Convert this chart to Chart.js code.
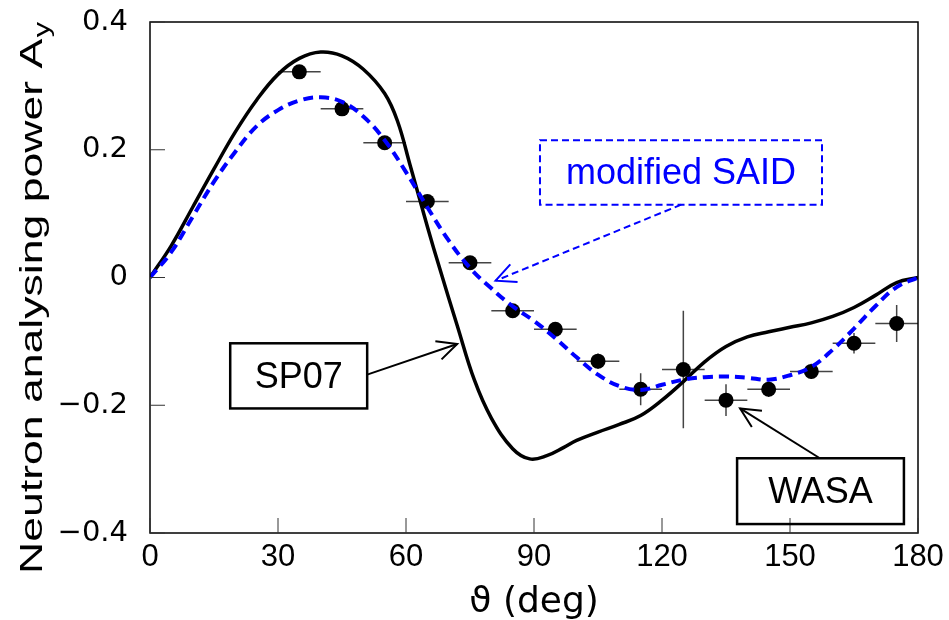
<!DOCTYPE html>
<html>
<head>
<meta charset="utf-8">
<script src="https://cdn.jsdelivr.net/npm/chart.js@4.4.0/dist/chart.umd.min.js"></script>
<style>
  html, body { margin: 0; padding: 0; background: #fff; }
  #wrap { width: 949px; height: 620px; }
</style>
</head>
<body>
<div id="wrap"><canvas id="chart" width="949" height="620"></canvas></div>
<script>
// WASA data points (theta in deg, A_y), with errors
const wasaAngles = [35, 45, 55, 65, 75, 85, 95, 105, 115, 125, 135, 145, 155, 165, 175];
const wasaValues = [0.322, 0.264, 0.211, 0.119, 0.023, -0.052, -0.081, -0.131, -0.175, -0.144, -0.192, -0.175, -0.147, -0.103, -0.072];
const wasaErrY = [0.008, 0.008, 0.008, 0.01, 0.01, 0.01, 0.01, 0.012, 0.025, 0.092, 0.025, 0.012, 0.012, 0.016, 0.029];
const wasaBinHalf = [5, 5, 5, 5, 5, 5, 5, 5, 5, 5, 5, 5, 5, 5, 5];

// SP07 curve
const sp07Angles = [0, 5, 10, 15, 20, 25, 30, 35, 40, 45, 50, 55, 58, 61, 65, 68, 72, 76, 80, 85, 89, 93, 97, 100, 105, 110, 115, 120, 125, 130, 135, 140, 145, 150, 155, 160, 165, 170, 175, 180];
const sp07Values = [0, 0.05, 0.11, 0.17, 0.228, 0.278, 0.318, 0.343, 0.353, 0.347, 0.326, 0.288, 0.245, 0.175, 0.08, 0.012, -0.075, -0.16, -0.22, -0.268, -0.284, -0.279, -0.266, -0.255, -0.242, -0.23, -0.216, -0.192, -0.163, -0.132, -0.108, -0.093, -0.085, -0.078, -0.071, -0.061, -0.047, -0.028, -0.008, 0];

// modified SAID curve
const saidAngles = [0, 5, 10, 15, 20, 25, 30, 35, 40, 45, 50, 55, 60, 65, 70, 75, 80, 85, 90, 95, 100, 105, 110, 115, 120, 125, 130, 135, 140, 145, 150, 155, 160, 165, 170, 175, 180];
const saidValues = [0, 0.04, 0.095, 0.15, 0.197, 0.237, 0.262, 0.277, 0.282, 0.275, 0.252, 0.215, 0.165, 0.11, 0.058, 0.015, -0.017, -0.045, -0.068, -0.095, -0.125, -0.152, -0.17, -0.176, -0.168, -0.16, -0.156, -0.155, -0.157, -0.16, -0.153, -0.14, -0.113, -0.08, -0.045, -0.015, 0];

// axis ticks
const xTicks = [0, 30, 60, 90, 120, 150, 180];
const yTicks = [-0.4, -0.2, 0, 0.2, 0.4];

// labelled boxes (data coords) and their arrows
const boxLabels = ['modified SAID', 'SP07', 'WASA'];
const boxX = [[91.4, 157.5], [18.8, 50.9], [137.6, 176.7]];
const boxY = [[0.215, 0.114], [-0.103, -0.205], [-0.283, -0.386]];
const arrowFrom = [[124.5, 0.114], [50.9, -0.152], [157.0, -0.283]];
const arrowTo = [[81.0, -0.005], [72.0, -0.104], [138.3, -0.205]];
const boxColors = ['#0000ff', '#000000', '#000000'];
const boxDashed = [true, false, false];

const pts = (xs, ys) => xs.map((x, i) => ({ x: x, y: ys[i] }));

const errorBars = {
  id: 'errorBars',
  beforeDatasetsDraw(chart) {
    const ctx = chart.ctx, sx = chart.scales.x, sy = chart.scales.y;
    ctx.save();
    ctx.strokeStyle = '#444';
    ctx.lineWidth = 1.5;
    wasaAngles.forEach((a, i) => {
      const v = wasaValues[i];
      ctx.beginPath();
      ctx.moveTo(sx.getPixelForValue(a - wasaBinHalf[i]), sy.getPixelForValue(v));
      ctx.lineTo(sx.getPixelForValue(a + wasaBinHalf[i]), sy.getPixelForValue(v));
      ctx.moveTo(sx.getPixelForValue(a), sy.getPixelForValue(v - wasaErrY[i]));
      ctx.lineTo(sx.getPixelForValue(a), sy.getPixelForValue(v + wasaErrY[i]));
      ctx.stroke();
    });
    ctx.restore();
  }
};

function arrowHead(ctx, x0, y0, x1, y1) {
  const ang = Math.atan2(y1 - y0, x1 - x0);
  const L = 22, spread = 0.45;
  ctx.beginPath();
  ctx.moveTo(x1 - L * Math.cos(ang - spread), y1 - L * Math.sin(ang - spread));
  ctx.lineTo(x1, y1);
  ctx.lineTo(x1 - L * Math.cos(ang + spread), y1 - L * Math.sin(ang + spread));
  ctx.stroke();
}

const frameAndNotes = {
  id: 'frameAndNotes',
  afterDraw(chart) {
    const ctx = chart.ctx, a = chart.chartArea;
    const sx = chart.scales.x, sy = chart.scales.y;
    ctx.save();
    // frame
    ctx.strokeStyle = '#000';
    ctx.lineWidth = 1.5;
    ctx.strokeRect(a.left, a.top, a.right - a.left, a.bottom - a.top);
    // inward ticks
    ctx.lineWidth = 1;
    ctx.strokeStyle = '#333';
    ctx.beginPath();
    yTicks.forEach(t => {
      const y = sy.getPixelForValue(t);
      ctx.moveTo(a.left, y); ctx.lineTo(a.left + 15, y);
    });
    xTicks.forEach(t => {
      const x = sx.getPixelForValue(t);
      ctx.moveTo(x, a.bottom); ctx.lineTo(x, a.bottom - 15);
    });
    ctx.stroke();

    // boxes with arrows
    boxLabels.forEach((label, i) => {
      const x0 = sx.getPixelForValue(boxX[i][0]), x1 = sx.getPixelForValue(boxX[i][1]);
      const y0 = sy.getPixelForValue(boxY[i][0]), y1 = sy.getPixelForValue(boxY[i][1]);
      ctx.strokeStyle = boxColors[i];
      ctx.fillStyle = boxColors[i];
      ctx.setLineDash(boxDashed[i] ? [7, 4] : []);
      ctx.lineWidth = boxDashed[i] ? 2 : 2.5;
      ctx.strokeRect(x0, y0, x1 - x0, y1 - y0);
      ctx.font = '36px "Liberation Sans", Arial, sans-serif';
      ctx.textAlign = 'center';
      ctx.textBaseline = 'middle';
      ctx.fillText(label, (x0 + x1) / 2, (y0 + y1) / 2 + 2);
      const fx = sx.getPixelForValue(arrowFrom[i][0]), fy = sy.getPixelForValue(arrowFrom[i][1]);
      const tx = sx.getPixelForValue(arrowTo[i][0]), ty = sy.getPixelForValue(arrowTo[i][1]);
      ctx.lineWidth = 2;
      ctx.beginPath();
      ctx.moveTo(fx, fy); ctx.lineTo(tx, ty);
      ctx.stroke();
      ctx.setLineDash([]);
      arrowHead(ctx, fx, fy, tx, ty);
    });

    // axis titles
    ctx.fillStyle = '#000';
    ctx.font = '36px "DejaVu Sans", sans-serif';
    ctx.textAlign = 'center';
    ctx.textBaseline = 'alphabetic';
    ctx.fillText('\u03d1 (deg)', (a.left + a.right) / 2, 612);

    const main = 'Neutron analysing power A';
    const sub = 'y';
    ctx.translate(42, 298);
    ctx.rotate(-Math.PI / 2);
    ctx.font = '32px "Liberation Sans", Arial, sans-serif';
    const wMain = ctx.measureText(main).width;
    ctx.font = '22px "Liberation Sans", Arial, sans-serif';
    const wSub = ctx.measureText(sub).width;
    const total = wMain + wSub + 1;
    const stretch = 552 / total;
    ctx.scale(stretch, 1);
    ctx.textAlign = 'left';
    ctx.font = '32px "Liberation Sans", Arial, sans-serif';
    ctx.fillText(main, -total / 2, 0);
    ctx.font = '22px "Liberation Sans", Arial, sans-serif';
    ctx.fillText(sub, -total / 2 + wMain + 1, 7);
    ctx.restore();
  }
};

new Chart(document.getElementById('chart'), {
  type: 'scatter',
  data: {
    datasets: [
      {
        label: 'modified SAID',
        data: pts(saidAngles, saidValues),
        showLine: true,
        borderColor: '#0000ff',
        borderWidth: 4,
        borderDash: [10, 6],
        pointRadius: 0,
        tension: 0.4,
        order: 1
      },
      {
        label: 'SP07',
        data: pts(sp07Angles, sp07Values),
        showLine: true,
        borderColor: '#000000',
        borderWidth: 3.5,
        pointRadius: 0,
        tension: 0.4,
        order: 2
      },
      {
        label: 'WASA',
        data: pts(wasaAngles, wasaValues),
        pointRadius: 7.5,
        pointBackgroundColor: '#000',
        pointBorderWidth: 0,
        order: 3
      }
    ]
  },
  options: {
    responsive: false,
    animation: false,
    layout: { autoPadding: false, padding: { top: 22, right: 31, left: 0, bottom: 0 } },
    plugins: { legend: { display: false }, tooltip: { enabled: false } },
    scales: {
      x: {
        type: 'linear',
        min: 0, max: 180,
        afterFit: s => { s.height = 87; s.paddingLeft = 0; s.paddingRight = 0; },
        afterBuildTicks: s => { s.ticks = xTicks.map(v => ({ value: v })); },
        grid: { display: false, drawTicks: false },
        border: { display: false },
        ticks: {
          padding: 6,
          color: '#000',
          font: { family: '"Liberation Sans", Arial, sans-serif', size: 31 }
        }
      },
      y: {
        min: -0.4, max: 0.4,
        afterFit: s => { s.width = 150; s.paddingTop = 0; s.paddingBottom = 0; },
        afterBuildTicks: s => { s.ticks = yTicks.map(v => ({ value: v })); },
        grid: { display: false, drawTicks: false },
        border: { display: false },
        ticks: {
          padding: 22,
          color: '#000',
          font: { family: '"DejaVu Sans", sans-serif', size: 29 },
          callback: v => v === 0 ? '0' : (v < 0 ? '\u2212' + Math.abs(v).toFixed(1) : v.toFixed(1))
        }
      }
    }
  },
  plugins: [errorBars, frameAndNotes]
});
</script>
</body>
</html>
